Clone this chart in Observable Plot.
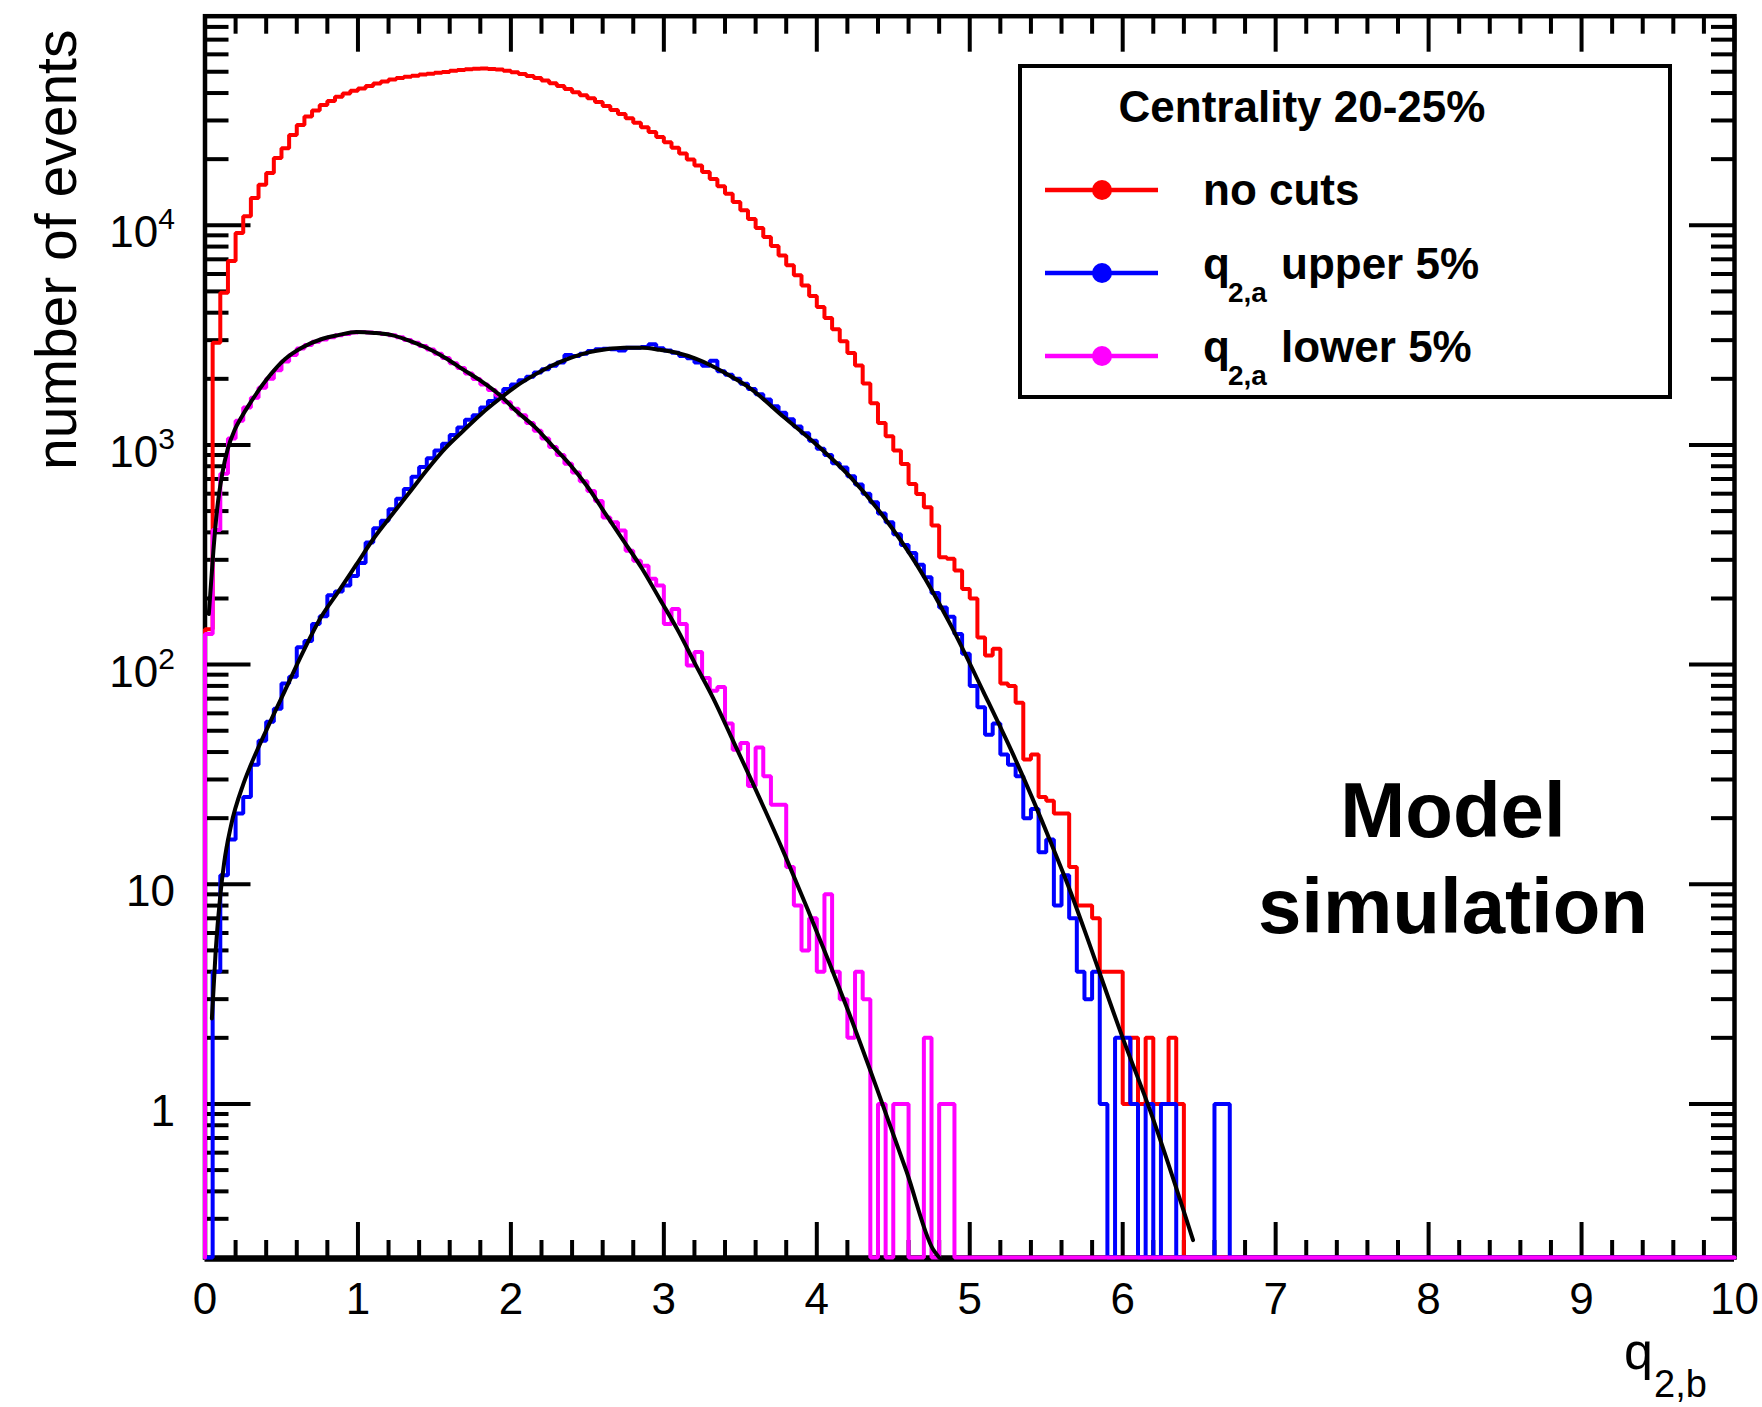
<!DOCTYPE html>
<html>
<head>
<meta charset="utf-8">
<script src="https://cdn.jsdelivr.net/npm/d3@7"></script>
<script src="https://cdn.jsdelivr.net/npm/@observablehq/plot@0.6"></script>
<style>
  html, body { margin: 0; padding: 0; background: #fff; }
  #chart svg { display: block; }
</style>
</head>
<body>
<div id="chart"></div>
<script>
// q_{2,b} distributions, 200 bins of width 0.05 on [0, 10]
const binWidth = 0.05;
const binCount = 200;

// Event counts per bin (bins past the last listed one are empty)
const noCuts = [
  145, 2920, 4930, 6870, 9230, 10990, 13300, 15310, 17300, 20230,
  22440, 25760, 28640, 31260, 33270, 35320, 36810, 38460, 39810, 40930,
  41980, 43050, 44160, 45190, 46130, 46880, 47420, 47970, 48530, 48980,
  49430, 49890, 50470, 50930, 51290, 51640, 51760, 51520, 51170, 50580,
  49770, 48870, 47860, 46770, 45600, 44360, 43050, 41690, 40360, 39080,
  37840, 36390, 34910, 33500, 32070, 30690, 29310, 27930, 26610, 25230,
  23880, 22540, 21230, 19950, 18710, 17460, 16260, 15070, 13900, 12760,
  11700, 10670, 9730, 8850, 8040, 7280, 6580, 5920, 5320, 4760,
  4250, 3780, 3360, 2965, 2620, 2300, 1905, 1549, 1259, 1096,
  944, 818, 664, 598, 520, 430, 308, 303, 268, 221,
  200, 133, 110, 118, 82, 80, 67, 37, 39, 25,
  24, 21, 21, 12, 8, 8, 7, 4, 4, 4,
  1, 2, 1, 2, 1, 1, 2, 1
];

const upper5 = [
  0, 4, 11, 16, 21, 25, 35, 45, 55, 63,
  82, 88, 120, 128, 153, 166, 207, 215, 229, 253,
  290, 360, 418, 452, 510, 569, 631, 716, 794, 871,
  944, 1012, 1109, 1202, 1303, 1365, 1479, 1585, 1698, 1799,
  1884, 1968, 2042, 2138, 2213, 2291, 2371, 2570, 2541, 2600,
  2679, 2729, 2742, 2729, 2692, 2767, 2773, 2793, 2871, 2754,
  2692, 2630, 2541, 2483, 2371, 2291, 2415, 2163, 2090, 2000,
  1900, 1800, 1700, 1610, 1500, 1400, 1310, 1215, 1130, 1045,
  960, 900, 825, 790, 720, 660, 600, 548, 488, 445,
  392, 350, 322, 285, 250, 212, 182, 165, 138, 112,
  80, 64, 48, 54, 39, 35, 31, 20, 22, 14,
  16, 8, 11, 7, 4, 3, 4, 1, 0, 2,
  2, 1, 0, 1, 0, 1, 1, 0, 0, 0,
  0, 0, 1, 1
];

const lower5 = [
  138, 410, 740, 1070, 1290, 1480, 1640, 1820, 2000, 2190,
  2400, 2570, 2750, 2850, 2950, 3020, 3090, 3160, 3200, 3250,
  3265, 3250, 3235, 3200, 3160, 3090, 3005, 2920, 2820, 2720,
  2600, 2485, 2355, 2240, 2115, 1995, 1885, 1780, 1680, 1565,
  1460, 1365, 1260, 1160, 1070, 980, 900, 822, 750, 684,
  617, 556, 468, 445, 408, 330, 297, 282, 246, 229,
  153, 179, 153, 99, 114, 87, 76, 79, 54, 41,
  44, 28, 42, 31, 23, 23, 12, 8, 5, 7,
  4, 9, 4, 3, 2, 4, 3, 0, 1, 0,
  1, 1, 0, 0, 2, 0, 1, 1
];

// Fitted curves, sampled along q
const upperFitQ = [0.045, 0.07, 0.10, 0.125, 0.17, 0.25, 0.30, 0.405, 0.522, 0.638, 0.755, 0.872,
  0.989, 1.106, 1.222, 1.339, 1.456, 1.572, 1.689, 1.806, 1.923, 2.04, 2.157, 2.27, 2.39, 2.507,
  2.624, 2.74, 2.86, 2.974, 3.09, 3.208, 3.325, 3.44, 3.56, 3.784, 4.0, 4.22, 4.438, 4.656,
  4.874, 5.09, 5.31, 5.53, 5.66, 5.746, 6.0, 6.18, 6.46];
const upperFitN = [2.45, 5.0, 8.9, 12.5, 18.5, 28.5, 35, 51, 76, 113, 163, 215,
  285, 378, 481, 611, 778, 968, 1161, 1385, 1615, 1862, 2090, 2300, 2490, 2640,
  2730, 2773, 2773, 2710, 2620, 2470, 2270, 2050, 1820, 1340, 1000, 713, 470, 283,
  152, 75, 35.5, 15.5, 9.2, 6.3, 2.0, 0.93, 0.24];

const lowerFitQ = [0.025, 0.055, 0.078, 0.113, 0.148, 0.195, 0.241, 0.30, 0.405, 0.522, 0.638,
  0.755, 0.872, 0.989, 1.106, 1.222, 1.339, 1.456, 1.572, 1.689, 1.806, 1.923, 2.039, 2.156,
  2.273, 2.39, 2.507, 2.623, 2.74, 2.857, 2.973, 3.09, 3.207, 3.324, 3.44, 3.557, 3.795, 3.94,
  4.087, 4.21, 4.39, 4.588, 4.76, 4.80];
const lowerFitN = [170, 331, 500, 741, 955, 1175, 1349, 1570, 1995, 2455, 2786,
  3020, 3162, 3266, 3236, 3162, 2979, 2754, 2489, 2203, 1954, 1698, 1419, 1208,
  989, 809, 637, 480, 363, 274, 199, 144, 100, 70, 47, 31.4, 13.4, 7.7,
  4.3, 2.6, 1.19, 0.49, 0.218, 0.2];

// Axes
const xDomain = [0, 10];
const yDomain = [0.2, 89500];
const xMajorTicks = [0, 1, 2, 3, 4, 5, 6, 7, 8, 9, 10];
const yMajorTicks = [1, 10, 100, 1000, 10000];
const yTickLabels = ["1", "10", "10^2", "10^3", "10^4"];
const xMinorTicks = d3.range(1, 50).filter(i => i % 5 !== 0).map(i => i / 5);
const yMinorTicks = [0.1, 1, 10, 100, 1000, 10000]
  .flatMap(decade => [2, 3, 4, 5, 6, 7, 8, 9].map(k => k * decade))
  .filter(v => v > yDomain[0] * 1.01 && v < yDomain[1]);

// Series colours and texts
const seriesColors = {noCuts: "#ff0000", upper: "#0000ff", lower: "#ff00ff"};
const legendTitle = "Centrality 20-25%";
const yTitle = "number of events";

const font = "'Liberation Sans', Arial, Helvetica, sans-serif";

const padCounts = counts => counts.concat(new Array(binCount - counts.length).fill(0));

// Outline rows: start at the floor of the left edge, one row per bin, closing at q = 10
function outline(counts) {
  const full = padCounts(counts);
  const rows = [{q: 0, n: 0}];
  full.forEach((n, i) => rows.push({q: i * binWidth, n}));
  rows.push({q: binCount * binWidth, n: full[binCount - 1]});
  return rows;
}
const floorY = d => Math.max(d.n, yDomain[0]);

const fitRows = (qs, ns) => qs.map((q, i) => ({q, n: ns[i]}));

const chart = Plot.plot({
  width: 1762,
  height: 1407,
  marginLeft: 204.5,
  marginRight: 28,
  marginTop: 15.7,
  marginBottom: 150,
  x: {domain: xDomain},
  y: {type: "log", domain: yDomain},
  style: {fontFamily: font, background: "white", color: "black"},
  marks: [
    // frame ticks (inward), all four sides
    Plot.axisX(xMajorTicks, {anchor: "bottom", tickSize: -35, fill: "none", strokeWidth: 4, label: null}),
    Plot.axisX(xMinorTicks, {anchor: "bottom", tickSize: -17, fill: "none", strokeWidth: 4, label: null}),
    Plot.axisX(xMajorTicks, {anchor: "top", tickSize: -35, fill: "none", strokeWidth: 4, label: null}),
    Plot.axisX(xMinorTicks, {anchor: "top", tickSize: -17, fill: "none", strokeWidth: 4, label: null}),
    Plot.axisY(yMajorTicks, {anchor: "left", tickSize: -46, fill: "none", strokeWidth: 4, label: null}),
    Plot.axisY(yMinorTicks, {anchor: "left", tickSize: -24, fill: "none", strokeWidth: 4, label: null}),
    Plot.axisY(yMajorTicks, {anchor: "right", tickSize: -46, fill: "none", strokeWidth: 4, label: null}),
    Plot.axisY(yMinorTicks, {anchor: "right", tickSize: -24, fill: "none", strokeWidth: 4, label: null}),
    // tick labels
    Plot.axisX(xMajorTicks, {anchor: "bottom", tickSize: 0, tickPadding: 25, fontSize: 44,
      tickFormat: d => String(d), label: null}),
    Plot.axisY(yMajorTicks, {anchor: "left", tickSize: 0, tickPadding: 30, fontSize: 44, dy: 8,
      tickFormat: d => yTickLabels[yMajorTicks.indexOf(d)], label: null}),
    Plot.frame({stroke: "black", strokeWidth: 4.5}),
    Plot.ruleY([yDomain[0]], {stroke: "black", strokeWidth: 3.5, dy: 2.5}),
    // histograms
    Plot.line(outline(noCuts), {x: "q", y: floorY, curve: "step-after", stroke: seriesColors.noCuts,
      strokeWidth: 4, strokeLinejoin: "miter"}),
    Plot.line(outline(upper5), {x: "q", y: floorY, curve: "step-after", stroke: seriesColors.upper,
      strokeWidth: 4, strokeLinejoin: "miter"}),
    Plot.line(outline(lower5), {x: "q", y: floorY, curve: "step-after", stroke: seriesColors.lower,
      strokeWidth: 4, strokeLinejoin: "miter"}),
    // fits
    Plot.line(fitRows(lowerFitQ, lowerFitN), {x: "q", y: "n", curve: "monotone-x", stroke: "black", strokeWidth: 4}),
    Plot.line(fitRows(upperFitQ, upperFitN), {x: "q", y: "n", curve: "monotone-x", stroke: "black", strokeWidth: 4})
  ]
});

document.getElementById("chart").appendChild(chart);

const svg = d3.select(chart);

// powers of ten as superscripts
svg.selectAll('g[aria-label="y-axis tick label"] text').each(function() {
  const m = /^10\^(\d)$/.exec(this.textContent);
  if (m) {
    const t = d3.select(this);
    t.text("10");
    t.append("tspan").attr("dy", -18).attr("font-size", 30).text(m[1]);
  }
});

// axis titles
svg.append("text")
  .attr("transform", "translate(76,470) rotate(-90)")
  .attr("text-anchor", "start")
  .attr("font-family", font).attr("font-size", 57).attr("fill", "black")
  .text(yTitle);

const xTitle = svg.append("text").attr("font-family", font).attr("fill", "black")
  .attr("text-anchor", "start");
xTitle.append("tspan").attr("x", 1624).attr("y", 1369).attr("font-size", 52).text("q");
xTitle.append("tspan").attr("x", 1654).attr("y", 1397).attr("font-size", 38).text("2,b");

// legend
const legend = svg.append("g").attr("font-family", font).attr("font-weight", "bold")
  .attr("fill", "black").attr("text-anchor", "start");
legend.append("rect")
  .attr("x", 1020).attr("y", 66).attr("width", 650).attr("height", 331)
  .attr("fill", "white").attr("stroke", "black").attr("stroke-width", 4);
legend.append("text")
  .attr("x", 1302).attr("y", 122).attr("text-anchor", "middle").attr("font-size", 44)
  .text(legendTitle);

const legendRows = [
  {color: seriesColors.noCuts, y: 190, sub: null, label: "no cuts"},
  {color: seriesColors.upper, y: 273, sub: "2,a", label: "upper 5%"},
  {color: seriesColors.lower, y: 356, sub: "2,a", label: "lower 5%"}
];
legendRows.forEach(r => {
  legend.append("line")
    .attr("x1", 1045).attr("x2", 1158).attr("y1", r.y).attr("y2", r.y)
    .attr("stroke", r.color).attr("stroke-width", 4.5);
  legend.append("circle").attr("cx", 1102).attr("cy", r.y).attr("r", 10).attr("fill", r.color);
  const t = legend.append("text").attr("font-size", 44).attr("text-anchor", "start");
  if (r.sub) {
    t.append("tspan").attr("x", 1203).attr("y", r.y + 6).text("q");
    t.append("tspan").attr("x", 1228).attr("y", r.y + 29).attr("font-size", 28).text(r.sub);
    t.append("tspan").attr("x", 1281).attr("y", r.y + 6).text(r.label);
  } else {
    t.append("tspan").attr("x", 1203).attr("y", r.y + 15).text(r.label);
  }
});

// annotation
const note = svg.append("text").attr("font-family", font).attr("font-weight", "bold")
  .attr("font-size", 78).attr("text-anchor", "middle").attr("fill", "black");
note.append("tspan").attr("x", 1453).attr("y", 837).text("Model");
note.append("tspan").attr("x", 1453).attr("y", 933).text("simulation");
</script>
</body>
</html>
